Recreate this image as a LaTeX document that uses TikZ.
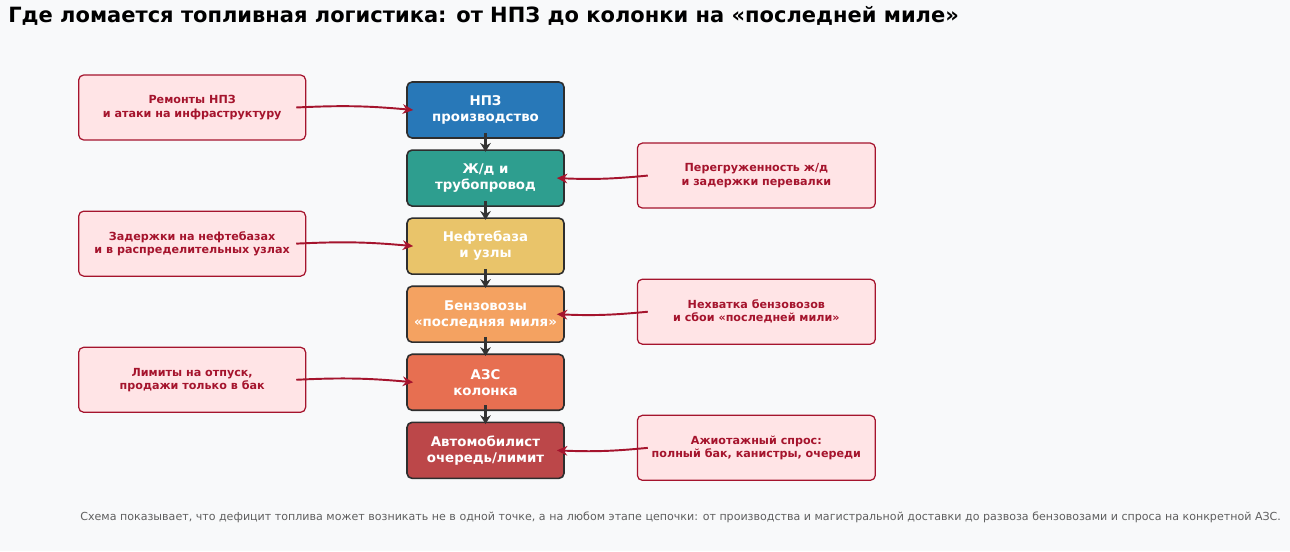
\documentclass[tikz,border=0pt]{standalone}
\usepackage{fontspec}
\setmainfont{DejaVu Sans}
\usepackage{tikz}
\usetikzlibrary{arrows.meta,positioning}
\definecolor{bgpale}{RGB}{248,249,250}
\definecolor{refblue}{RGB}{40,120,184}
\definecolor{railteal}{RGB}{46,158,143}
\definecolor{depotgold}{RGB}{233,196,106}
\definecolor{truckorange}{RGB}{244,162,97}
\definecolor{stationcoral}{RGB}{231,111,81}
\definecolor{driverred}{RGB}{188,71,73}
\definecolor{issuepale}{RGB}{255,228,230}
\definecolor{issuered}{RGB}{165,20,45}
\definecolor{flowgray}{RGB}{51,51,51}
\definecolor{notegray}{RGB}{95,95,95}

\begin{document}
\begin{tikzpicture}[x=0.02cm,y=-0.02cm,>=Stealth,
  every node/.style={align=center},
  stage/.style={draw=flowgray!90!black,line width=0.9pt,rounded corners=0.1cm,minimum width=3.14cm,minimum height=1.12cm,text=white,font=\fontsize{7.6}{9.1}\selectfont\bfseries},
  issue/.style={draw=issuered,line width=0.7pt,rounded corners=0.1cm,fill=issuepale,minimum width=4.54cm,minimum height=1.3cm,text=issuered,font=\fontsize{6.35}{7.5}\selectfont\bfseries},
  wideissue/.style={issue,minimum width=4.76cm},
  flow/.style={-{Stealth[length=5pt,width=6pt]},draw=flowgray,line width=1.4pt},
  hit/.style={-{Stealth[length=6pt,width=5.5pt]},draw=issuered,line width=1.1pt}]
  \fill[bgpale] (0,0) rectangle (1290,551);
  \useasboundingbox (0,0) rectangle (1290,551);
  \node[anchor=west,inner sep=0pt,font=\fontsize{11.95}{14}\selectfont\bfseries] (title) at (8,16) {Где ломается топливная логистика: от НПЗ до колонки на «последней миле»};
  % supply chain
  \node[stage,fill=refblue] (npz) at (485.5,110) {НПЗ\\производство};
  \node[stage,fill=railteal,below=0.21cm of npz] (rail) {Ж/д и\\трубопровод};
  \node[stage,fill=depotgold,below=0.21cm of rail] (depot) {Нефтебаза\\и узлы};
  \node[stage,fill=truckorange,below=0.21cm of depot] (trucks) {Бензовозы\\«последняя миля»};
  \node[stage,fill=stationcoral,below=0.21cm of trucks] (station) {АЗС\\колонка};
  \node[stage,fill=driverred,below=0.21cm of station] (driver) {Автомобилист\\очередь/лимит};
  \draw[flow] ([yshift=0.12cm]npz.south) -- ([yshift=-0.05cm]rail.north);
  \draw[flow] ([yshift=0.12cm]rail.south) -- ([yshift=-0.05cm]depot.north);
  \draw[flow] ([yshift=0.12cm]depot.south) -- ([yshift=-0.05cm]trucks.north);
  \draw[flow] ([yshift=0.12cm]trucks.south) -- ([yshift=-0.05cm]station.north);
  \draw[flow] ([yshift=0.12cm]station.south) -- ([yshift=-0.05cm]driver.north);
  % failure points
  \node[issue,left=2.0cm of npz,yshift=0.05cm] (repairs) {Ремонты НПЗ\\и атаки на инфраструктуру};
  \node[wideissue,right=1.44cm of rail,yshift=0.05cm] (overload) {Перегруженность ж/д\\и задержки перевалки};
  \node[issue,left=2.0cm of depot,yshift=0.05cm] (delays) {Задержки на нефтебазах\\и в распределительных узлах};
  \node[wideissue,right=1.44cm of trucks,yshift=0.05cm] (shortage) {Нехватка бензовозов\\и сбои «последней мили»};
  \node[issue,left=2.0cm of station,yshift=0.05cm] (limits) {Лимиты на отпуск,\\продажи только в бак};
  \node[wideissue,right=1.44cm of driver,yshift=0.05cm] (panic) {Ажиотажный спрос:\\полный бак, канистры, очереди};
  \draw[hit] ([xshift=-0.2cm]repairs.east) to[bend left=4] ([xshift=0.14cm]npz.west);
  \draw[hit] ([xshift=0.22cm]overload.west) to[bend left=4] ([xshift=-0.16cm]rail.east);
  \draw[hit] ([xshift=-0.2cm]delays.east) to[bend left=4] ([xshift=0.14cm]depot.west);
  \draw[hit] ([xshift=0.22cm]shortage.west) to[bend left=4] ([xshift=-0.16cm]trucks.east);
  \draw[hit] ([xshift=-0.2cm]limits.east) to[bend left=4] ([xshift=0.14cm]station.west);
  \draw[hit] ([xshift=0.22cm]panic.west) to[bend left=4] ([xshift=-0.16cm]driver.east);
  \node[anchor=west,inner sep=0pt,text=notegray,font=\fontsize{6.3}{7.5}\selectfont] (note) at (80,517) {Схема показывает, что дефицит топлива может возникать не в одной точке, а на любом этапе цепочки: от производства и магистральной доставки до развоза бензовозами и спроса на конкретной АЗС.};
\end{tikzpicture}
\end{document}
